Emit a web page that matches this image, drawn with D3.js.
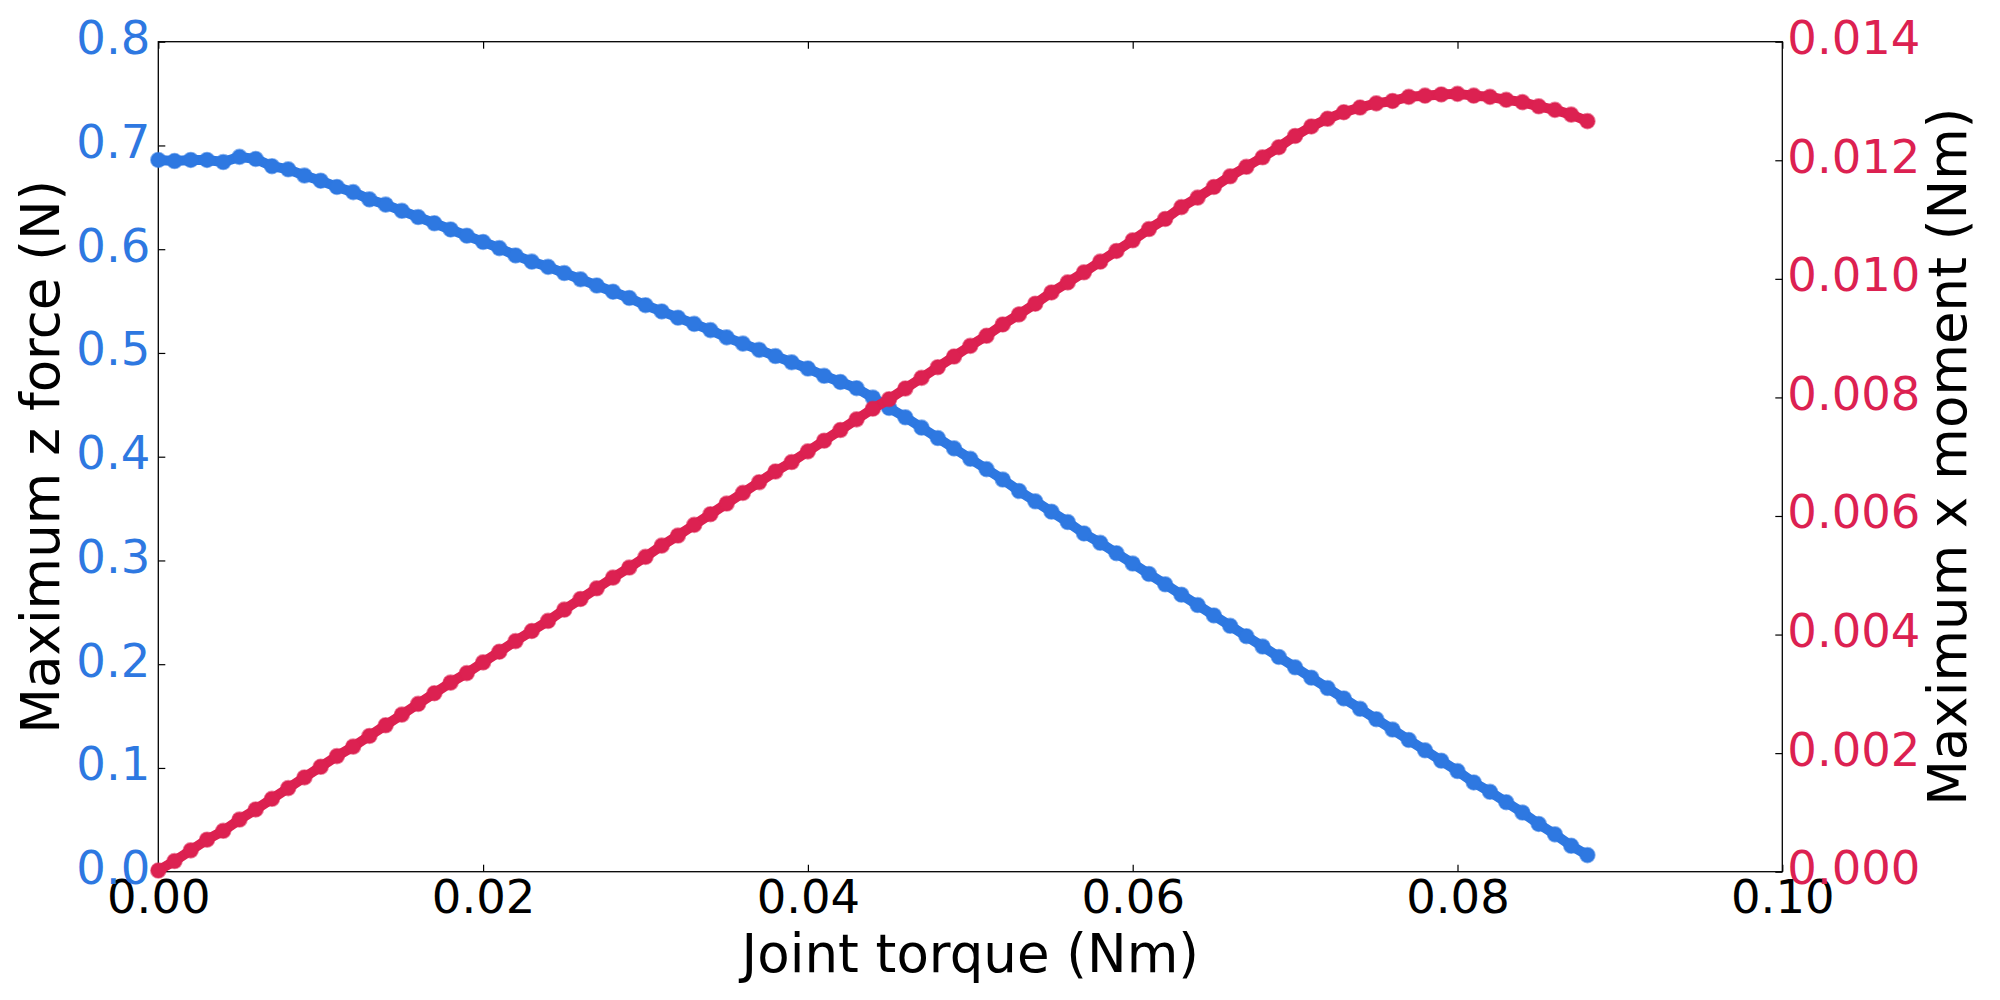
<!DOCTYPE html>
<html>
<head>
<meta charset="utf-8">
<script src="https://cdn.jsdelivr.net/npm/d3@7"></script>
<style>
  html, body { margin: 0; padding: 0; background: #fff; }
  svg { display: block; font-family: "DejaVu Sans", sans-serif; }
</style>
</head>
<body>
<svg id="chart" width="2000" height="1000"></svg>
<script>
// ---- Data ----
const torque = [
  0.000,0.001,0.002,0.003,0.004,0.005,0.006,0.007,0.008,0.009,
  0.010,0.011,0.012,0.013,0.014,0.015,0.016,0.017,0.018,0.019,
  0.020,0.021,0.022,0.023,0.024,0.025,0.026,0.027,0.028,0.029,
  0.030,0.031,0.032,0.033,0.034,0.035,0.036,0.037,0.038,0.039,
  0.040,0.041,0.042,0.043,0.044,0.045,0.046,0.047,0.048,0.049,
  0.050,0.051,0.052,0.053,0.054,0.055,0.056,0.057,0.058,0.059,
  0.060,0.061,0.062,0.063,0.064,0.065,0.066,0.067,0.068,0.069,
  0.070,0.071,0.072,0.073,0.074,0.075,0.076,0.077,0.078,0.079,
  0.080,0.081,0.082,0.083,0.084,0.085,0.086,0.087,0.088
];
const zForce = [
  0.686,0.685,0.686,0.686,0.684,0.689,0.687,0.680,0.677,0.671,
  0.666,0.660,0.655,0.648,0.643,0.637,0.631,0.625,0.619,0.613,
  0.607,0.601,0.594,0.588,0.583,0.577,0.571,0.565,0.559,0.553,
  0.546,0.540,0.534,0.528,0.522,0.515,0.509,0.503,0.497,0.491,
  0.485,0.478,0.472,0.466,0.457,0.447,0.438,0.428,0.418,0.408,
  0.398,0.388,0.378,0.367,0.357,0.347,0.337,0.326,0.317,0.307,
  0.297,0.287,0.277,0.267,0.257,0.247,0.237,0.227,0.217,0.207,
  0.197,0.187,0.177,0.167,0.157,0.147,0.137,0.127,0.117,0.107,
  0.097,0.086,0.077,0.067,0.057,0.046,0.036,0.025,0.016
];
const xMoment = [
  0.00002,0.00018,0.00036,0.00054,0.00069,0.00088,0.00105,0.00123,0.00141,0.00159,
  0.00177,0.00195,0.00211,0.00229,0.00247,0.00265,0.00283,0.00301,0.00319,0.00335,
  0.00353,0.00371,0.00389,0.00406,0.00423,0.00442,0.00460,0.00478,0.00496,0.00513,
  0.00531,0.00550,0.00567,0.00585,0.00603,0.00621,0.00639,0.00657,0.00675,0.00691,
  0.00709,0.00727,0.00745,0.00763,0.00781,0.00797,0.00815,0.00833,0.00851,0.00869,
  0.00887,0.00904,0.00923,0.00940,0.00958,0.00977,0.00994,0.01011,0.01029,0.01047,
  0.01065,0.01084,0.01101,0.01121,0.01137,0.01155,0.01173,0.01189,0.01205,0.01222,
  0.01241,0.01257,0.01270,0.01281,0.01289,0.01296,0.01300,0.01307,0.01309,0.01311,
  0.01312,0.01309,0.01307,0.01302,0.01298,0.01291,0.01285,0.01277,0.01266
];
const xTicks = [0.00,0.02,0.04,0.06,0.08,0.10];
const leftTicks = [0.0,0.1,0.2,0.3,0.4,0.5,0.6,0.7,0.8];
const rightTicks = [0.000,0.002,0.004,0.006,0.008,0.010,0.012,0.014];
const xLabel = "Joint torque (Nm)";
const leftLabel = "Maximum z force (N)";
const rightLabel = "Maximum x moment (Nm)";

// ---- Layout ----
const BLUE = "#2e78e1", RED = "#dc2151";
const L = 158.3, T = 41.7, W = 1624, H = 830;
const svg = d3.select("#chart");
const g = svg.append("g").attr("transform", `translate(${L},${T})`);

const x = d3.scaleLinear().domain([0, 0.1]).range([0, W]);
const yL = d3.scaleLinear().domain([0, 0.8]).range([H, 0]);
const yR = d3.scaleLinear().domain([0, 0.014]).range([H, 0]);

const tickFont = 46.5, labelFont = 53, tickLen = 7;

function styleAxis(sel) {
  sel.select(".domain").remove();
  sel.selectAll(".tick line").attr("stroke", "#000").attr("stroke-width", 1.2);
  sel.selectAll(".tick text").attr("font-size", tickFont).attr("font-family", "DejaVu Sans");
}
const gx = g.append("g").attr("transform", `translate(0,${H})`)
  .call(d3.axisBottom(x).tickValues(xTicks).tickFormat(d3.format(".2f")).tickSizeInner(-tickLen).tickSizeOuter(0).tickPadding(0));
styleAxis(gx);
gx.selectAll(".tick text").attr("fill", "#000").attr("y", 41).attr("dy", null);

const gxTop = g.append("g")
  .call(d3.axisTop(x).tickValues(xTicks).tickFormat("").tickSizeInner(-tickLen).tickSizeOuter(0));
styleAxis(gxTop);

const gl = g.append("g")
  .call(d3.axisLeft(yL).tickValues(leftTicks).tickFormat(d3.format(".1f")).tickSizeInner(-tickLen).tickSizeOuter(0));
styleAxis(gl);
gl.selectAll(".tick text").attr("fill", BLUE).attr("x", -8).attr("dy", null)
  .attr("dominant-baseline", "central").attr("y", -4);

const gr = g.append("g").attr("transform", `translate(${W},0)`)
  .call(d3.axisRight(yR).tickValues(rightTicks).tickFormat(d3.format(".3f")).tickSizeInner(-tickLen).tickSizeOuter(0));
styleAxis(gr);
gr.selectAll(".tick text").attr("fill", RED).attr("x", 5).attr("dy", null)
  .attr("dominant-baseline", "central").attr("y", -4);

g.append("rect").attr("x", 0).attr("y", 0).attr("width", W).attr("height", H)
  .attr("fill", "none").attr("stroke", "#000").attr("stroke-width", 1.3);

function drawSeries(vals, yScale, color) {
  const pts = torque.map((t, i) => [t, vals[i]]);
  const line = d3.line().x(d => x(d[0])).y(d => yScale(d[1]));
  const s = g.append("g");
  s.append("path").datum(pts).attr("d", line)
    .attr("fill", "none").attr("stroke", color).attr("stroke-width", 10)
    .attr("stroke-linejoin", "round");
  s.selectAll("circle").data(pts).enter().append("circle")
    .attr("cx", d => x(d[0])).attr("cy", d => yScale(d[1])).attr("r", 7.4)
    .attr("fill", color).attr("stroke", color).attr("stroke-opacity", 0.55).attr("stroke-width", 1.8);
}
drawSeries(zForce, yL, BLUE);
drawSeries(xMoment, yR, RED);

svg.append("text").attr("x", L + W / 2).attr("y", 972)
  .attr("text-anchor", "middle").attr("font-size", labelFont).attr("fill", "#000")
  .text(xLabel);
svg.append("text").attr("transform", `translate(59,${T + H / 2}) rotate(-90)`)
  .attr("text-anchor", "middle").attr("font-size", labelFont).attr("fill", "#000")
  .text(leftLabel);
svg.append("text").attr("transform", `translate(1966,${T + H / 2}) rotate(-90)`)
  .attr("text-anchor", "middle").attr("font-size", labelFont).attr("fill", "#000")
  .text(rightLabel);
</script>
</body>
</html>
